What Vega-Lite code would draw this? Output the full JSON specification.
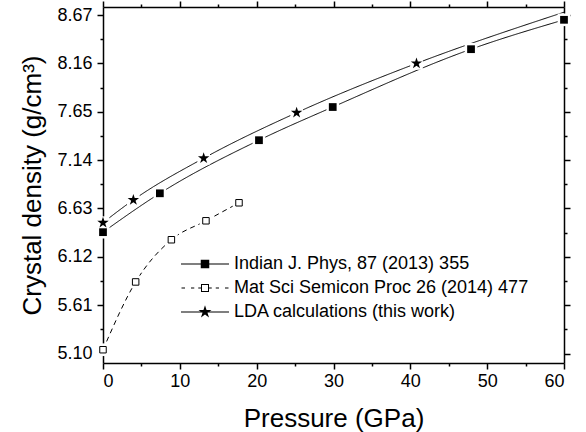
{
  "$schema": "https://vega.github.io/schema/vega-lite/v6.json",
  "width": 461,
  "height": 356,
  "autosize": {"type": "none"},
  "padding": {"left": 103, "top": 7, "right": 22, "bottom": 69},
  "config": {
    "view": {"stroke": null},
    "font": "Liberation Sans",
    "axis": {
      "labelFont": "Liberation Sans",
      "titleFont": "Liberation Sans",
      "labelColor": "black",
      "titleColor": "black",
      "domainColor": "black",
      "tickColor": "black",
      "titleFontWeight": "normal",
      "grid": false,
      "zindex": 1,
      "domainWidth": 1.5,
      "tickWidth": 1.5,
      "labelFontSize": 18,
      "titleFontSize": 26
    },
    "legend": {
      "labelLimit": 0
    }
  },
  "data": {
    "values": [
      {"series": "Indian J. Phys, 87 (2013) 355", "P": 0, "rho": 6.38},
      {"series": "Indian J. Phys, 87 (2013) 355", "P": 7.4, "rho": 6.79},
      {"series": "Indian J. Phys, 87 (2013) 355", "P": 20.3, "rho": 7.35},
      {"series": "Indian J. Phys, 87 (2013) 355", "P": 29.9, "rho": 7.70},
      {"series": "Indian J. Phys, 87 (2013) 355", "P": 47.9, "rho": 8.31},
      {"series": "Indian J. Phys, 87 (2013) 355", "P": 60, "rho": 8.62},
      {"series": "Mat Sci Semicon Proc 26 (2014) 477", "P": 0, "rho": 5.14},
      {"series": "Mat Sci Semicon Proc 26 (2014) 477", "P": 4.25, "rho": 5.855},
      {"series": "Mat Sci Semicon Proc 26 (2014) 477", "P": 8.9, "rho": 6.30},
      {"series": "Mat Sci Semicon Proc 26 (2014) 477", "P": 13.4, "rho": 6.50},
      {"series": "Mat Sci Semicon Proc 26 (2014) 477", "P": 17.7, "rho": 6.69},
      {"series": "LDA calculations (this work)", "P": 0, "rho": 6.48},
      {"series": "LDA calculations (this work)", "P": 3.95, "rho": 6.72},
      {"series": "LDA calculations (this work)", "P": 13.1, "rho": 7.16},
      {"series": "LDA calculations (this work)", "P": 25.2, "rho": 7.64},
      {"series": "LDA calculations (this work)", "P": 40.8, "rho": 8.16},
      {"series": "LDA calculations (this work)", "P": 60, "rho": 8.70}
    ]
  },
  "layer": [
    {
      "mark": {"type": "line", "color": "black", "strokeWidth": 1, "interpolate": "monotone"},
      "encoding": {
        "x": {
          "field": "P", "type": "quantitative",
          "scale": {"domain": [0, 60], "nice": false, "zero": false},
          "axis": {
            "orient": "bottom",
            "values": [0, 5, 10, 15, 20, 25, 30, 35, 40, 45, 50, 55, 60],
            "labelExpr": "datum.value % 10 === 0 ? datum.label : ''",
            "tickSize": {"condition": {"test": "datum.value % 10 === 0", "value": 6}, "value": 3},
            "labelPadding": 3,
            "title": "Pressure (GPa)",
            "titlePadding": 15
          }
        },
        "y": {
          "field": "rho", "type": "quantitative",
          "scale": {"domain": [5.0, 8.755], "nice": false, "zero": false},
          "axis": {
            "orient": "left",
            "values": [5.1, 5.355, 5.61, 5.865, 6.12, 6.375, 6.63, 6.885, 7.14, 7.395, 7.65, 7.905, 8.16, 8.415, 8.67],
            "labelExpr": "round(datum.value / 0.255) % 2 === 0 ? format(datum.value, '.2f') : ''",
            "tickSize": {"condition": {"test": "round(datum.value / 0.255) % 2 === 0", "value": 6}, "value": 3},
            "labelPadding": 5,
            "title": "Crystal density (g/cm³)",
            "titlePadding": 11
          }
        },
        "strokeDash": {
          "field": "series", "type": "nominal",
          "scale": {
            "domain": ["Mat Sci Semicon Proc 26 (2014) 477", "Indian J. Phys, 87 (2013) 355", "LDA calculations (this work)"],
            "range": [[5, 4], [1, 0], [1, 0]]
          },
          "legend": null
        }
      }
    },
    {
      "transform": [{"filter": "!(datum.series === 'LDA calculations (this work)' && datum.P >= 60)"}],
      "mark": {"type": "point", "shape": "square", "filled": true, "color": "white", "opacity": 1, "size": 160},
      "encoding": {
        "x": {"field": "P", "type": "quantitative", "scale": {"domain": [0, 60], "nice": false, "zero": false}, "axis": null},
        "y": {"field": "rho", "type": "quantitative", "scale": {"domain": [5.0, 8.755], "nice": false, "zero": false}, "axis": null}
      }
    },
    {
      "transform": [{"filter": "datum.series === 'Indian J. Phys, 87 (2013) 355'"}],
      "mark": {"type": "point", "shape": "square", "filled": true, "color": "black", "opacity": 1, "size": 60},
      "encoding": {
        "x": {
          "field": "P", "type": "quantitative",
          "scale": {"domain": [0, 60], "nice": false, "zero": false},
          "axis": {
            "orient": "top",
            "values": [0, 5, 10, 15, 20, 25, 30, 35, 40, 45, 50, 55, 60],
            "labels": false,
            "tickSize": {"condition": {"test": "datum.value % 10 === 0", "value": 6}, "value": 3},
            "title": null
          }
        },
        "y": {
          "field": "rho", "type": "quantitative",
          "scale": {"domain": [5.0, 8.755], "nice": false, "zero": false},
          "axis": {
            "orient": "right",
            "values": [5.1, 5.355, 5.61, 5.865, 6.12, 6.375, 6.63, 6.885, 7.14, 7.395, 7.65, 7.905, 8.16, 8.415, 8.67],
            "labels": false,
            "tickSize": {"condition": {"test": "round(datum.value / 0.255) % 2 === 0", "value": 6}, "value": 3},
            "title": null
          }
        }
      }
    },
    {
      "transform": [{"filter": "datum.series === 'Mat Sci Semicon Proc 26 (2014) 477'"}],
      "mark": {"type": "point", "shape": "square", "filled": true, "fill": "white", "stroke": "black", "strokeWidth": 1, "opacity": 1, "size": 42},
      "encoding": {
        "x": {"field": "P", "type": "quantitative", "scale": {"domain": [0, 60], "nice": false, "zero": false}, "axis": null},
        "y": {"field": "rho", "type": "quantitative", "scale": {"domain": [5.0, 8.755], "nice": false, "zero": false}, "axis": null}
      }
    },
    {
      "transform": [{"filter": "datum.series === 'LDA calculations (this work)' && datum.P < 60"}],
      "mark": {"type": "point", "shape": "M0,-1.2L0.269,-0.371L1.141,-0.371L0.436,0.142L0.706,0.971L0,0.458L-0.706,0.971L-0.436,0.142L-1.141,-0.371L-0.269,-0.371Z", "filled": true, "color": "black", "opacity": 1, "size": 100},
      "encoding": {
        "x": {"field": "P", "type": "quantitative", "scale": {"domain": [0, 60], "nice": false, "zero": false}, "axis": null},
        "y": {"field": "rho", "type": "quantitative", "scale": {"domain": [5.0, 8.755], "nice": false, "zero": false}, "axis": null}
      }
    },
    {
      "transform": [{"filter": "false"}],
      "mark": {"type": "point", "filled": true, "color": "black", "opacity": 1, "size": 100},
      "encoding": {
        "x": {"field": "P", "type": "quantitative", "scale": {"domain": [0, 60], "nice": false, "zero": false}, "axis": null},
        "y": {"field": "rho", "type": "quantitative", "scale": {"domain": [5.0, 8.755], "nice": false, "zero": false}, "axis": null},
        "shape": {
          "field": "series", "type": "nominal",
          "scale": {
            "domain": ["Indian J. Phys, 87 (2013) 355", "Mat Sci Semicon Proc 26 (2014) 477", "LDA calculations (this work)"],
            "range": [
              "M-4.8,-0.1H4.8V0.1H-4.8ZM-0.85,-0.85H0.85V0.85H-0.85Z",
              "M-4.7,-0.1H-4.0V0.1H-4.7ZM-2.8,-0.1H-2.15V0.1H-2.8ZM-1.35,-0.1H-0.8V0.1H-1.35ZM0.8,-0.1H1.35V0.1H0.8ZM2.15,-0.1H2.8V0.1H2.15ZM4.0,-0.1H4.7V0.1H4.0ZM-0.8,-0.8H0.8V0.8H-0.8ZM-0.6,-0.6V0.6H0.6V-0.6Z",
              "M-4.8,-0.1H4.8V0.1H-4.8ZM0,-1.37L0.308,-0.423L1.303,-0.423L0.497,0.162L0.806,1.108L0,0.523L-0.806,1.108L-0.497,0.162L-1.303,-0.423L-0.308,-0.423Z"
            ]
          },
          "legend": {
            "orient": "none", "legendX": 93, "legendY": 248, "title": null, "padding": 0,
            "labelFontSize": 18, "labelFont": "Liberation Sans", "labelColor": "black", "labelLimit": 0,
            "labelOffset": 20, "rowPadding": 6, "symbolSize": 100, "symbolOpacity": 1,
            "symbolFillColor": "black", "symbolStrokeWidth": 0
          }
        }
      }
    }
  ],
  "resolve": {"axis": {"x": "independent", "y": "independent"}}
}
